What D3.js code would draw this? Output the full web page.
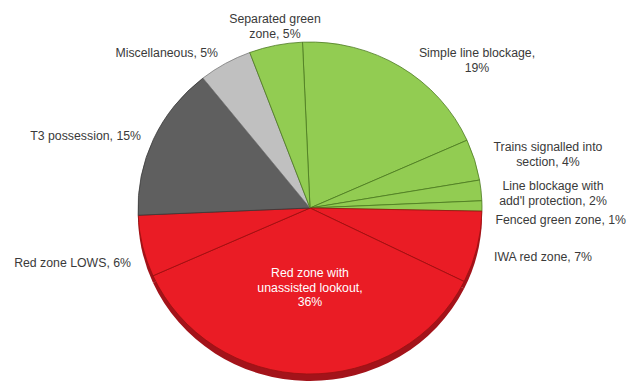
<!DOCTYPE html>
<html><head><meta charset="utf-8">
<script src="https://cdn.jsdelivr.net/npm/d3@7"></script>
<style>body{margin:0;background:#fff}svg{display:block}</style>
</head><body>
<svg id="c" width="633" height="384"></svg>
<script>
// ---- data ----
const categories = ["Simple line blockage","Trains signalled into section","Line blockage with add'l protection","Fenced green zone","IWA red zone","Red zone with unassisted lookout","Red zone LOWS","T3 possession","Miscellaneous","Separated green zone"];
const values = [19,4,2,1,7,36,6,15,5,5];
const groups = ["green","green","green","green","red","red","red","dgray","lgray","green"];
// label lines
const labelLines = [
  ["Simple line blockage,","19%"],
  ["Trains signalled into","section, 4%"],
  ["Line blockage with","add'l protection, 2%"],
  ["Fenced green zone, 1%"],
  ["IWA red zone, 7%"],
  ["Red zone with","unassisted lookout,","36%"],
  ["Red zone LOWS, 6%"],
  ["T3 possession, 15%"],
  ["Miscellaneous, 5%"],
  ["Separated green","zone, 5%"]
];
// ---- styling / layout ----
const fillC = {green:"#92cc52", red:"#ea1c25", dgray:"#5f5f5f", lgray:"#c0c0c0"};
const strokeC = {green:"#4c7a22", red:"#9a1010", dgray:"#3a3a3a", lgray:"#7a7a7a"};
const rimC = {green:"#5e8a2c", red:"#a3131a", dgray:"#3c3c3c", lgray:"#888"};
// label anchor: [x, y of first line, anchor]
const labelPos = [
  [477, 57, "middle"],
  [548, 151, "middle"],
  [553, 190, "middle"],
  [626, 224, "end"],
  [494, 261, "start"],
  [310, 277, "middle"],
  [131, 267, "end"],
  [141, 140, "end"],
  [218, 57, "end"],
  [275, 23, "middle"]
];
const cx = 310, cy = 208, R = 172, sy = 0.965, rim = 7;

const svg = d3.select("#c");
const pie = d3.pie().sort(null).value(d => d)
  .startAngle(-2.5 * Math.PI / 180).endAngle(2 * Math.PI - 2.5 * Math.PI / 180);
const arcs = pie(values);
const arc = d3.arc().innerRadius(0).outerRadius(R);

// rim (3D edge)
const gr = svg.append("g").attr("transform", `translate(${cx},${cy + rim}) scale(1,${sy})`);
gr.selectAll("path").data(arcs).join("path")
  .attr("d", arc).attr("fill", (d, i) => rimC[groups[i]]);

const g = svg.append("g").attr("transform", `translate(${cx},${cy}) scale(1,${sy})`);
g.selectAll("path").data(arcs).join("path")
  .attr("d", arc)
  .attr("fill", (d, i) => fillC[groups[i]])
  .attr("stroke", (d, i) => strokeC[groups[i]])
  .attr("stroke-width", 0.8)
  .attr("vector-effect", "non-scaling-stroke");

// labels
const lg = svg.append("g").attr("font-family", "Liberation Sans, Arial, sans-serif").attr("font-size", 12.3);
labelLines.forEach((lines, i) => {
  const [x, y, anchor] = labelPos[i];
  const t = lg.append("text").attr("x", x).attr("y", y).attr("text-anchor", anchor)
    .attr("fill", i === 5 ? "#fff" : "#3a3a3a");
  lines.forEach((ln, j) => t.append("tspan").attr("x", x).attr("dy", j === 0 ? 0 : 14.5).text(ln));
});
</script>
</body></html>
